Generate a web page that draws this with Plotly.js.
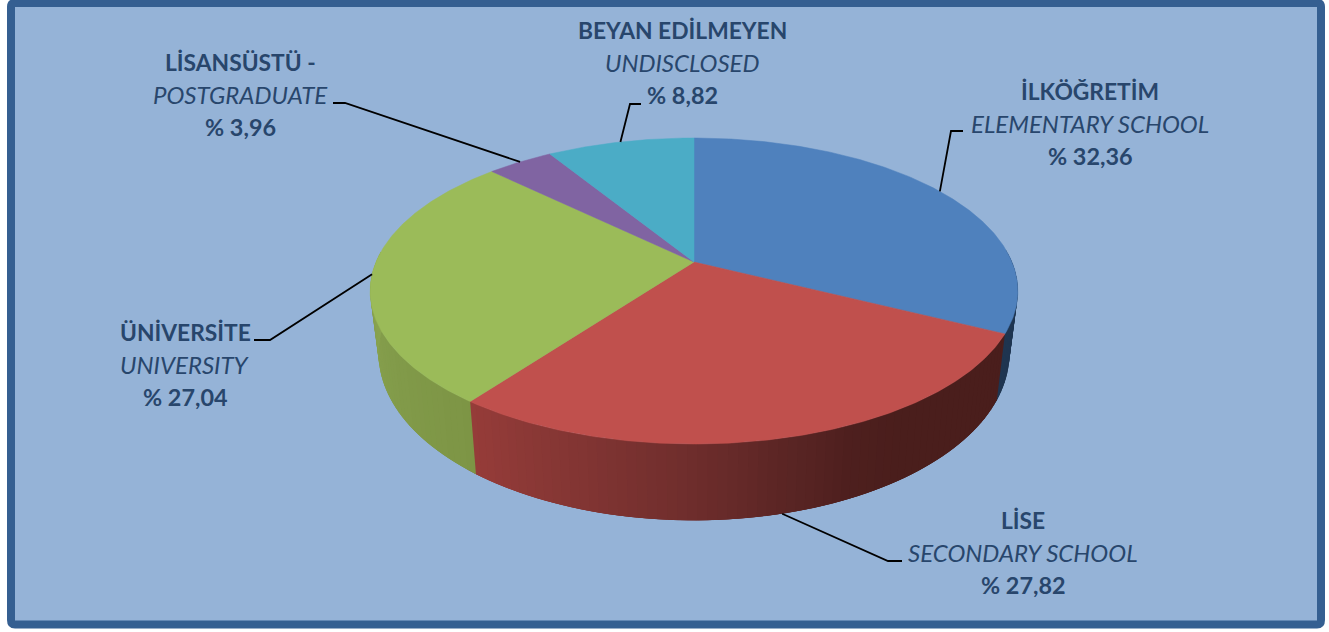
<!DOCTYPE html>
<html><head><meta charset="utf-8">
<script src="https://cdn.plot.ly/plotly-3.0.1.min.js"></script>
<style>html,body{margin:0;padding:0;background:#fff}#c{width:1329px;height:632px}</style></head>
<body><div id="c"></div>
<script>
const namesTr = ['İLKÖĞRETİM','LİSE','ÜNİVERSİTE','LİSANSÜSTÜ -','BEYAN EDİLMEYEN'];
const namesEn = ['ELEMENTARY SCHOOL','SECONDARY SCHOOL','UNIVERSITY','POSTGRADUATE','UNDISCLOSED'];
const shares  = [32.36,27.82,27.04,3.96,8.82];
const topColors = ['#4F81BD','#C0504D','#9BBB59','#8064A2','#4BACC6'];

// label placement (px in the page coordinates)
const labelCenters = [[1090,123],[1023,552],[185,364.5],[240,94.5],[682,62.5]];
const elbows = [[[951,131],[963,131]],[[888,561],[902,561]],[[270,340],[254,340]],[[345,103],[333,103]],[[630,104],[641,104]]];
const frontFace = [false,true,false,false,false];

// perspective camera fitted to the picture
const CX=694, CY=262, A=318, B=147.5, K=0.1896;
const BX=0.974, BY=1.09, BY0=322;
const topPt = t => { const s=Math.sin(t), c=Math.cos(t), w=1+K*c; return [CX+A*s/w, CY-B*c/w]; };
const botPt = t => { const p=topPt(t); return [CX+BX*(p[0]-CX), BY0+BY*(p[1]-CY)]; };

// side shade stops: angle in degrees -> colour
const sideStops = [
  [85,[31,53,80]],[116.5,[31,53,80]],
  [116.51,[74,30,28]],[147,[74,30,28]],[156,[78,31,30]],[166,[90,37,36]],[180,[110,45,44]],[197,[130,53,51]],[216.6,[150,60,57]],
  [216.61,[125,149,69]],[240,[130,155,74]],[275,[139,166,81]]
];
function sideColor(deg){
  for(let i=1;i<sideStops.length;i++){
    if(deg<=sideStops[i][0]){
      const a=sideStops[i-1], b=sideStops[i], f=(deg-a[0])/(b[0]-a[0]);
      const c=a[1].map((v,j)=>Math.round(v+(b[1][j]-v)*f));
      return `rgb(${c[0]},${c[1]},${c[2]})`;
    }
  }
  const l=sideStops[sideStops.length-1][1]; return `rgb(${l[0]},${l[1]},${l[2]})`;
}

const traces=[];
const base={mode:'lines',fill:'toself',hoverinfo:'skip',showlegend:false,line:{width:0}};
// side wall: each strip runs on under the next one so no seams show
const total=shares.reduce((a,b)=>a+b,0);
const cum=[0]; shares.forEach(v=>cum.push(cum[cum.length-1]+v));
const edges=cum.map(v=>v/total*360);
const cuts=[85];
for(let d=86.5;d<=275;d+=1.5){cuts.push(d);}
edges.forEach(e=>{ if(e>85&&e<275) cuts.push(e); });
cuts.sort((a,b)=>a-b);
for(let i=0;i<cuts.length-1;i++){
  const a=cuts[i]*Math.PI/180;
  const b=cuts[Math.min(i+3,cuts.length-1)]*Math.PI/180;
  const m=cuts[i+1]*Math.PI/180;
  const p=[topPt(a),topPt(m),topPt(b),botPt(b),botPt(m),botPt(a),topPt(a)];
  const col=sideColor((cuts[i]+cuts[i+1])/2);
  traces.push({...base,x:p.map(q=>q[0]),y:p.map(q=>q[1]),fillcolor:col});
}
// top face
shares.forEach((v,i)=>{
  const x=[CX],y=[CY];
  const n=Math.ceil(edges[i+1]-edges[i])*2;
  for(let j=0;j<=n;j++){
    const p=topPt((edges[i]+(edges[i+1]-edges[i])*j/n)*Math.PI/180);
    x.push(p[0]);y.push(p[1]);
  }
  x.push(CX);y.push(CY);
  traces.push({...base,x,y,fillcolor:topColors[i],line:{color:topColors[i],width:0.5}});
});
// leader lines
shares.forEach((v,i)=>{
  const m=(edges[i]+edges[i+1])/2*Math.PI/180;
  const s=frontFace[i]?botPt(m):topPt(m);
  traces.push({mode:'lines',hoverinfo:'skip',showlegend:false,
    x:[s[0],elbows[i][0][0],elbows[i][1][0]],y:[s[1],elbows[i][0][1],elbows[i][1][1]],
    line:{color:'#000',width:1.8}});
});
const fmt=v=>'% '+v.toFixed(2).replace('.',',');
const FONT='Lato, Carlito, sans-serif', INK='#28466C', LINE=32.5;
const annotations=[];
shares.forEach((v,i)=>{
  [[`<b>${namesTr[i]}</b>`,-LINE,22.8],[`<i>${namesEn[i]}</i>`,0,24],[`<b>${fmt(v)}</b>`,LINE,23.4]].forEach(l=>{
    annotations.push({xref:'x',yref:'y',x:labelCenters[i][0],y:labelCenters[i][1]+l[1],xanchor:'center',yanchor:'middle',
      showarrow:false,align:'center',text:l[0],font:{family:FONT,size:l[2],color:INK}});
  });
});
const layout={
  width:1329,height:632,margin:{l:0,r:0,t:0,b:0},paper_bgcolor:'#fff',plot_bgcolor:'rgba(0,0,0,0)',showlegend:false,
  xaxis:{range:[0,1329],visible:false,fixedrange:true},
  yaxis:{range:[632,0],visible:false,fixedrange:true},
  shapes:[{type:'path',xref:'x',yref:'y',layer:'below',
    path:'M 15,3 L 1317,3 Q 1321,3 1321,7 L 1321,620 Q 1321,624.5 1317,624.5 L 15,624.5 Q 11,624.5 11,620 L 11,7 Q 11,3 15,3 Z',
    fillcolor:'#95B3D7',line:{color:'#355F91',width:8}}],
  annotations
};
Plotly.newPlot('c',traces,layout,{displayModeBar:false,staticPlot:true});
</script></body></html>
